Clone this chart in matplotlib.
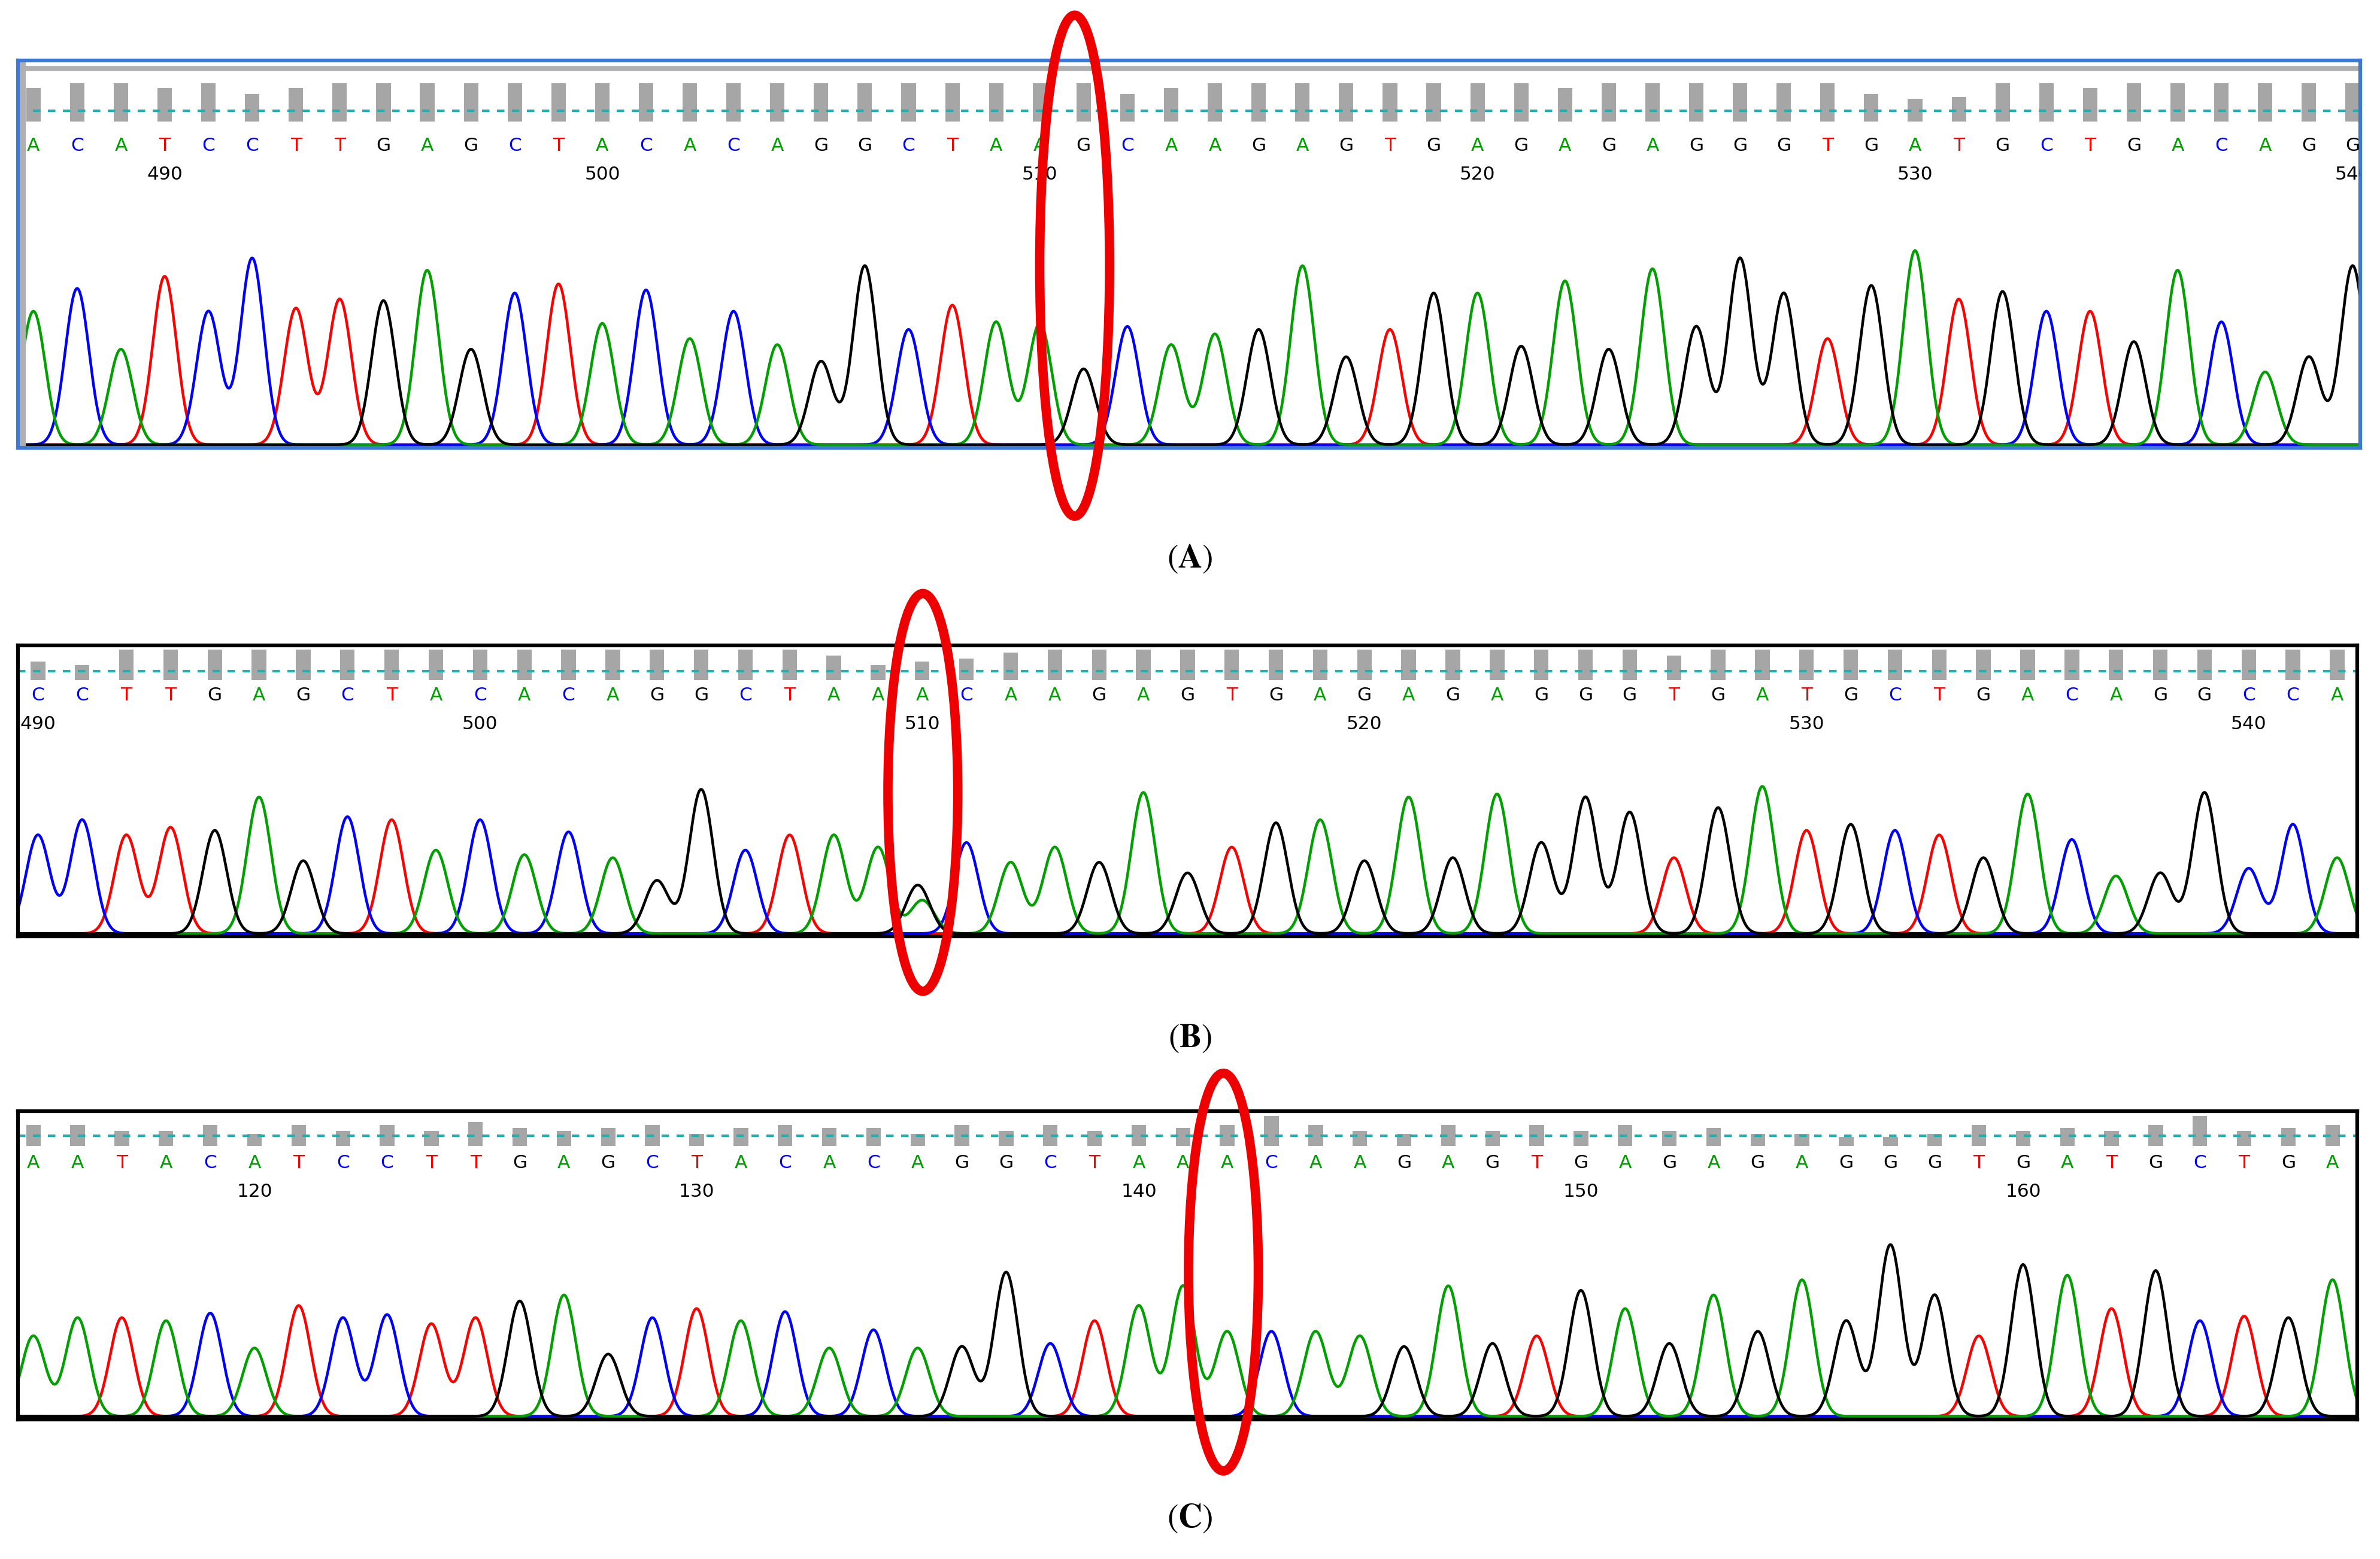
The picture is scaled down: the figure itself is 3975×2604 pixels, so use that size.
import numpy as np
import matplotlib
matplotlib.use("Agg")
import matplotlib.pyplot as plt
from matplotlib.patches import Ellipse

BASE_COLORS = {"A": "#00a000", "C": "#0000ff", "G": "#000000", "T": "#ff0000"}

# panel A: reads 487-540, mutation G at 511
seq_a = "ACATCCTTGAGCTACACAGGCTAAGCAAGAGTGAGAGAGGGTGATGCTGACAGG"
start_a = 487
peaks_a = [88, 103, 63, 111, 88, 123, 90, 96, 95, 115, 63, 100, 106, 80, 102, 70,
           88, 66, 55, 118, 76, 92, 81, 80, 50, 78, 66, 73, 76, 118, 58, 76, 100,
           100, 65, 108, 63, 116, 78, 123, 100, 70, 105, 128, 96, 101, 88, 88, 68,
           115, 81, 48, 58, 118]
qual_a = [22, 25, 25, 22, 25, 18, 22, 25, 25, 25, 25, 25, 25, 25, 25, 25, 25, 25,
          25, 25, 25, 25, 25, 25, 25, 18, 22, 25, 25, 25, 25, 25, 25, 25, 25, 22,
          25, 25, 25, 25, 25, 25, 18, 15, 16, 25, 25, 22, 25, 25, 25, 25, 25, 25]

# panel B: reads 490-542, A at 510 with a small G underneath
seq_b = "CCTTGAGCTACACAGGCTAAACAAGAGTGAGAGAGGGTGATGCTGACAGGCCA"
start_b = 490
peaks_b = [65, 75, 65, 70, 68, 90, 48, 77, 75, 55, 75, 52, 67, 50, 35, 95, 55, 65,
           65, 57, 22, 60, 47, 57, 47, 93, 40, 57, 73, 75, 48, 90, 50, 92, 60, 90,
           80, 50, 83, 97, 68, 72, 68, 65, 50, 92, 62, 38, 40, 93, 43, 72, 50]
qual_b = [12, 10, 20, 20, 20, 20, 20, 20, 20, 20, 20, 20, 20, 20, 20, 20, 20, 20,
          16, 10, 12, 14, 18, 20, 20, 20, 20, 20, 20, 20, 20, 20, 20, 20, 20, 20,
          20, 16, 20, 20, 20, 20, 20, 20, 20, 20, 20, 20, 20, 20, 20, 20, 20]
extra_b = {20: ("G", 32)}

# panel C: reads 115-167, A at 142
seq_c = "AATACATCCTTGAGCTACACAGGCTAAACAAGAGTGAGAGAGGGTGATGCTGA"
start_c = 115
peaks_c = [53, 65, 65, 63, 68, 45, 73, 65, 67, 61, 65, 76, 80, 41, 65, 71, 63, 69,
           45, 57, 45, 46, 95, 48, 63, 73, 86, 56, 56, 56, 53, 46, 86, 48, 53, 83,
           71, 48, 80, 56, 90, 63, 113, 80, 53, 100, 93, 71, 96, 63, 66, 65, 90]
qual_c = [14, 14, 10, 10, 14, 8, 14, 10, 14, 10, 16, 12, 10, 12, 14, 8, 12, 14,
          12, 12, 8, 14, 10, 14, 10, 14, 12, 14, 20, 14, 10, 8, 14, 10, 14, 10,
          14, 10, 12, 8, 8, 6, 6, 8, 14, 10, 12, 10, 14, 20, 10, 12, 14]

W, H = 1568.0, 1027.0   # layout measured on the reference thumbnail


def panel(fig, box, seq, start, peaks, qual, extra, x0, sp, ly, ny, qb, qdash, frame):
    left, top, right, bot = box
    ax = fig.add_axes([left / W, 1 - bot / H, (right - left) / W, (bot - top) / H])
    hpx = bot - top
    ax.set_xlim((left - x0) / sp, (right - x0) / sp)
    ax.set_ylim(0, hpx)
    base = 2
    x = np.linspace(-1, len(seq) + 1, 4000)
    traces = {b: np.zeros_like(x) for b in "ACGT"}
    for i, (b, h) in enumerate(zip(seq, peaks)):
        traces[b] += h * np.exp(-0.5 * ((x - i) / 0.27) ** 2)
    for i, (b, h) in extra.items():
        traces[b] += h * np.exp(-0.5 * ((x - i + 0.1) / 0.27) ** 2)
    for b in "TCAG":
        ax.plot(x, base + traces[b], color=BASE_COLORS[b], lw=1.3)
    for i, b in enumerate(seq):
        ax.text(i, hpx - (ly - top), b, color=BASE_COLORS[b], ha="center", va="center",
                fontsize=9, family="DejaVu Sans", clip_on=True)
        n = start + i
        if n % 10 == 0:
            ax.text(i, hpx - (ny - top), str(n), color="black", ha="center", va="center",
                    fontsize=9, clip_on=True)
    qbottom = hpx - (qb - top)
    ax.bar(range(len(seq)), qual, width=0.33, bottom=qbottom, color="#a6a6a6", zorder=1)
    ax.axhline(hpx - (qdash - top), color="#20b0b0", lw=1.2, ls=(0, (3, 3)), zorder=2)
    ax.set_xticks([]); ax.set_yticks([])
    for s in ax.spines.values():
        s.set_color(frame[0]); s.set_linewidth(frame[1])
    return ax


fig = plt.figure(figsize=(15.9, 10.416), dpi=250)
fig.patch.set_facecolor("white")

axa = panel(fig, (12, 40, 1555, 295), seq_a, start_a, peaks_a, qual_a, {}, 22, 28.83,
            96, 115, 80, 73, ("#3c78d8", 1.8))
axa.axhline(255 - 5, color="#b0b0b0", lw=2.5)
axa.axvline(axa.get_xlim()[0] + 0.1, color="#b0b0b0", lw=3)
axb = panel(fig, (12, 425, 1553, 617), seq_b, start_b, peaks_b, qual_b, extra_b, 25, 29.13,
            458, 477, 448, 442, ("black", 1.8))
axc = panel(fig, (12, 732, 1553, 935), seq_c, start_c, peaks_c, qual_c, {}, 22, 29.13,
            766, 785, 755, 748, ("black", 1.8))

for cx, cy, w, h in [(708, 175, 46, 330), (608, 522, 46, 262), (806, 838, 46, 262)]:
    fig.patches.append(Ellipse((cx / W, 1 - cy / H), w / W, h / H, fill=False,
                               edgecolor="#ee0000", lw=4.5, transform=fig.transFigure))

plt.rcParams["mathtext.fontset"] = "stix"
for lab, y in [("A", 368), ("B", 684), ("C", 1000)]:
    fig.text(0.5, 1 - y / H, r"($\mathbf{" + lab + r"}$)", ha="center", va="center",
             fontsize=16, family="STIXGeneral")

fig.savefig("out.png", dpi=250)
